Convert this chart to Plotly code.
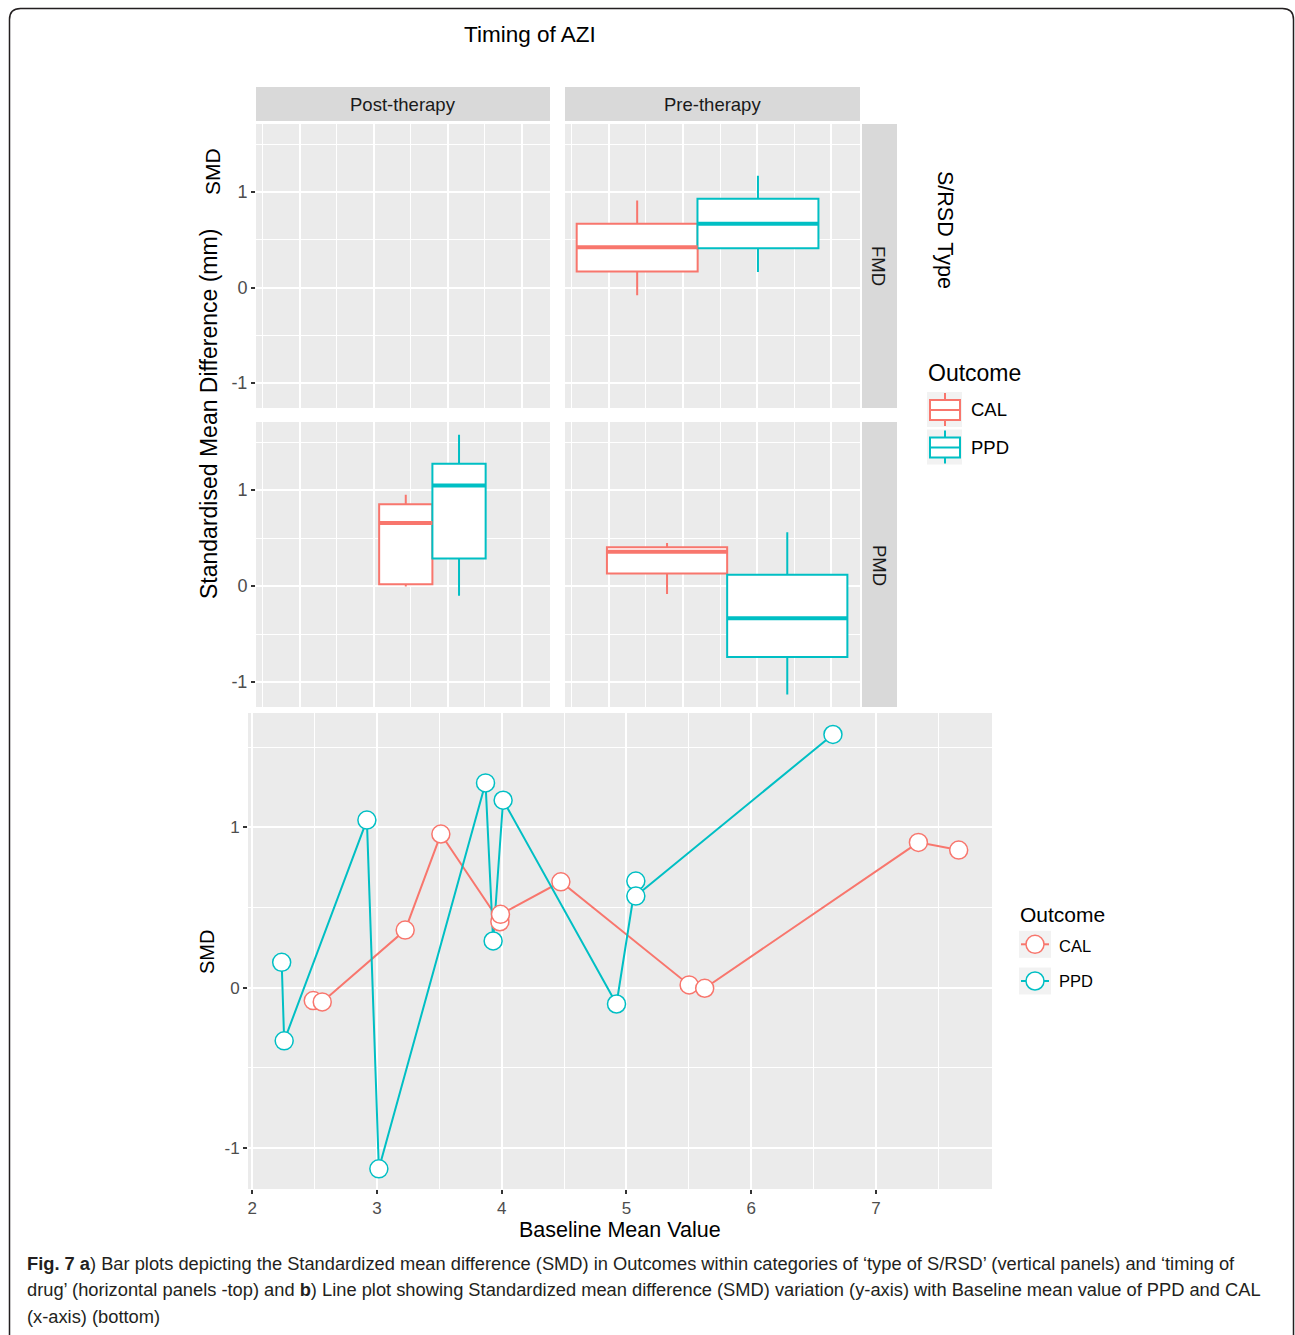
import plotly.graph_objects as go

# ---------------- data ----------------
# Box summaries (a): Standardised mean difference by outcome, S/RSD type and timing of AZI
box_timing = ["Post-therapy", "Post-therapy", "Pre-therapy", "Pre-therapy", "Pre-therapy", "Pre-therapy"]
box_srsd = ["PMD", "PMD", "FMD", "FMD", "PMD", "PMD"]
box_outcome = ["CAL", "PPD", "CAL", "PPD", "CAL", "PPD"]
box_lower = [-0.005, -0.10, -0.08, 0.163, -0.083, -1.13]
box_q1 = [0.018, 0.288, 0.167, 0.41, 0.132, -0.738]
box_median = [0.658, 1.047, 0.42, 0.667, 0.357, -0.336]
box_q3 = [0.852, 1.275, 0.667, 0.927, 0.405, 0.118]
box_upper = [0.953, 1.577, 0.91, 1.17, 0.45, 0.561]

# Line plot (b): SMD against baseline mean value
cal_baseline = [2.489, 2.561, 3.226, 3.512, 3.985, 3.990, 4.474, 5.502, 5.627, 7.340, 7.663]
cal_smd = [-0.081, -0.089, 0.359, 0.958, 0.411, 0.457, 0.660, 0.017, -0.004, 0.906, 0.858]
ppd_baseline = [2.236, 2.256, 2.919, 3.015, 3.870, 3.931, 4.011, 4.920, 5.075, 5.075, 6.655]
ppd_smd = [0.158, -0.332, 1.045, -1.13, 1.277, 0.291, 1.169, -0.102, 0.665, 0.571, 1.579]

y_ticks = [-1, 0, 1]
y_ticktext = ["-1", "0", "1"]
x_ticks_b = [2, 3, 4, 5, 6, 7]

# ---------------- layout constants ----------------
W, H = 1295, 1335
COLORS = {"CAL": "#F8766D", "PPD": "#00BFC4"}
FONT = "Liberation Sans, Arial, sans-serif"

# dodged box placement within each facet (facet x units)
box_centre = [4.87, 6.31, 2.765, 6.02, 3.57, 6.81]
box_width = [1.44, 1.44, 3.26, 3.26, 3.24, 3.24]


def X(px):
    return px / W


def Y(py):
    return 1 - py / H


facet_axes = {
    ("FMD", "Post-therapy"): ("x", "y"),
    ("FMD", "Pre-therapy"): ("x2", "y2"),
    ("PMD", "Post-therapy"): ("x3", "y3"),
    ("PMD", "Pre-therapy"): ("x4", "y4"),
}

fig = go.Figure()

# the Post-therapy / FMD facet holds no boxes; an invisible point keeps the panel drawn
fig.add_trace(go.Scatter(x=[4], y=[0], mode="markers", marker=dict(opacity=0),
                         xaxis="x", yaxis="y", showlegend=False, hoverinfo="skip"))

# ---- boxes ----
for i in range(len(box_outcome)):
    xa, ya = facet_axes[(box_srsd[i], box_timing[i])]
    col = COLORS[box_outcome[i]]
    fig.add_trace(go.Box(
        x=[box_centre[i]], q1=[box_q1[i]], median=[box_median[i]], q3=[box_q3[i]],
        lowerfence=[box_lower[i]], upperfence=[box_upper[i]],
        width=box_width[i], whiskerwidth=0, boxpoints=False,
        fillcolor="white", line=dict(color=col, width=2),
        xaxis=xa, yaxis=ya, showlegend=False, hoverinfo="skip",
    ))
    # heavier median bar
    fig.add_trace(go.Scatter(
        x=[box_centre[i] - box_width[i] / 2, box_centre[i] + box_width[i] / 2],
        y=[box_median[i], box_median[i]], mode="lines",
        line=dict(color=col, width=4), xaxis=xa, yaxis=ya,
        showlegend=False, hoverinfo="skip",
    ))

# ---- line plot: lines first, then points on top ----
for name, xs, ys in [("CAL", cal_baseline, cal_smd), ("PPD", ppd_baseline, ppd_smd)]:
    fig.add_trace(go.Scatter(x=xs, y=ys, mode="lines", line=dict(color=COLORS[name], width=2),
                             xaxis="x5", yaxis="y5", showlegend=False, hoverinfo="skip"))
for name, xs, ys in [("CAL", cal_baseline, cal_smd), ("PPD", ppd_baseline, ppd_smd)]:
    fig.add_trace(go.Scatter(x=xs, y=ys, mode="markers",
                             marker=dict(size=18, color="white", line=dict(color=COLORS[name], width=1.5)),
                             xaxis="x5", yaxis="y5", showlegend=False, hoverinfo="skip"))

# ---- axes ----
grid_major = dict(showgrid=True, gridcolor="white", gridwidth=2, zeroline=False, showline=False)


def top_x(domain, anchor):
    return dict(domain=domain, anchor=anchor, range=[0.82, 8.77], tickvals=[2, 4, 6, 8],
                showticklabels=False, ticks="",
                minor=dict(tickvals=[1, 3, 5, 7], showgrid=True, gridcolor="white", gridwidth=1, ticks=""),
                **grid_major)


def top_y(domain, anchor, labels):
    d = dict(domain=domain, anchor=anchor, range=[-1.26, 1.71], tickvals=y_ticks, ticktext=y_ticktext,
             showticklabels=labels, ticks="outside" if labels else "", ticklen=4, tickwidth=1.5,
             tickcolor="#333333", tickfont=dict(size=18, color="#4D4D4D", family=FONT),
             minor=dict(tickvals=[-0.5, 0.5, 1.5], showgrid=True, gridcolor="white", gridwidth=1, ticks=""),
             **grid_major)
    return d


post_dom = [X(256), X(550)]
pre_dom = [X(565), X(860)]
fmd_dom = [Y(408), Y(124)]
pmd_dom = [Y(707), Y(422)]

fig.update_layout(
    xaxis=top_x(post_dom, "y"), yaxis=top_y(fmd_dom, "x", True),
    xaxis2=top_x(pre_dom, "y2"), yaxis2=top_y(fmd_dom, "x2", False),
    xaxis3=top_x(post_dom, "y3"), yaxis3=top_y(pmd_dom, "x3", True),
    xaxis4=top_x(pre_dom, "y4"), yaxis4=top_y(pmd_dom, "x4", False),
    xaxis5=dict(domain=[X(248), X(992)], anchor="y5", range=[1.966, 7.93], tickvals=x_ticks_b,
                ticks="outside", ticklen=4, tickwidth=1.5, tickcolor="#333333",
                tickfont=dict(size=17, color="#4D4D4D", family=FONT),
                minor=dict(tickvals=[2.5, 3.5, 4.5, 5.5, 6.5, 7.5], showgrid=True,
                           gridcolor="white", gridwidth=1, ticks=""),
                **grid_major),
    yaxis5=dict(domain=[Y(1189), Y(713)], anchor="x5", range=[-1.256, 1.713], tickvals=y_ticks,
                ticktext=y_ticktext, ticks="outside", ticklen=4, tickwidth=1.5, tickcolor="#333333",
                tickfont=dict(size=17, color="#4D4D4D", family=FONT),
                minor=dict(tickvals=[-0.5, 0.5, 1.5], showgrid=True, gridcolor="white", gridwidth=1, ticks=""),
                **grid_major),
)

# ---- shapes: strips, legend keys, frame ----
shapes = []


def rect(x0, y0, x1, y1, fill, line_col=None, lw=0):
    shapes.append(dict(type="rect", xref="paper", yref="paper", x0=X(x0), x1=X(x1), y0=Y(y1), y1=Y(y0),
                       fillcolor=fill, line=dict(color=line_col or fill, width=lw), layer="above"))


def seg(x0, y0, x1, y1, col, lw):
    shapes.append(dict(type="line", xref="paper", yref="paper", x0=X(x0), x1=X(x1), y0=Y(y0), y1=Y(y1),
                       line=dict(color=col, width=lw), layer="above"))


# facet strips
rect(256, 87, 550, 121, "#D9D9D9")
rect(565, 87, 860, 121, "#D9D9D9")
rect(862, 124, 897, 408, "#D9D9D9")
rect(862, 422, 897, 707, "#D9D9D9")

# legend (a): box glyphs
for k, name in enumerate(["CAL", "PPD"]):
    oy = 37.5 * k
    col = COLORS[name]
    rect(927, 392 + oy, 962, 427 + oy, "#F2F2F2")
    seg(945, 393 + oy, 945, 426 + oy, col, 2)
    rect(930, 400 + oy, 960, 420 + oy, "white", col, 2)
    seg(930, 410 + oy, 960, 410 + oy, col, 2)

# legend (b): line + open circle glyphs
for k, name in enumerate(["CAL", "PPD"]):
    cy = 944.3 + 36.7 * k
    col = COLORS[name]
    rect(1019, cy - 13.5, 1051, cy + 13.5, "#F2F2F2")
    seg(1021, cy, 1049, cy, col, 2)
    shapes.append(dict(type="circle", xref="paper", yref="paper", x0=X(1035 - 9), x1=X(1035 + 9),
                       y0=Y(cy + 9), y1=Y(cy - 9), fillcolor="white", line=dict(color=col, width=1.5),
                       layer="above"))

# rounded outer frame
r = 11
fx0, fy0, fx1, fy1 = 9.5, 8.5, 1293.5, 1350
path = (f"M {X(fx0)},{Y(fy1)} L {X(fx0)},{Y(fy0 + r)} Q {X(fx0)},{Y(fy0)} {X(fx0 + r)},{Y(fy0)} "
        f"L {X(fx1 - r)},{Y(fy0)} Q {X(fx1)},{Y(fy0)} {X(fx1)},{Y(fy0 + r)} L {X(fx1)},{Y(fy1)}")
shapes.append(dict(type="path", xref="paper", yref="paper", path=path,
                   line=dict(color="#231F20", width=1.5), layer="above"))

# ---- text ----
ann = []


def text(s, px, py, size, color="black", angle=0, xanchor="center", family=FONT):
    ann.append(dict(text=s, x=X(px), y=Y(py), xref="paper", yref="paper", showarrow=False,
                    xanchor=xanchor, yanchor="middle", textangle=angle,
                    font=dict(size=size, color=color, family=family)))


text("Timing of AZI", 530, 35, 22.5)
text("Post-therapy", 403, 104, 18.5, "#1A1A1A")
text("Pre-therapy", 712, 104, 18.5, "#1A1A1A")
text("FMD", 879, 266, 18.5, "#1A1A1A", angle=90)
text("PMD", 879, 565, 18.5, "#1A1A1A", angle=90)
text("S/RSD Type", 945, 230, 21.5, angle=90)
text("SMD", 212, 172, 21, angle=-90)
text("Standardised Mean Difference (mm)", 209, 414, 23, angle=-90)
text("Outcome", 926, 373, 23, xanchor="left")
text("CAL", 969, 410, 18.5, xanchor="left")
text("PPD", 969, 447, 18.5, xanchor="left")

text("SMD", 207, 952, 20, angle=-90)
text("Baseline Mean Value", 620, 1230, 21.5)
text("Outcome", 1018, 914, 21, xanchor="left")
text("CAL", 1057, 946, 16.5, xanchor="left")
text("PPD", 1057, 981, 16.5, xanchor="left")

caption = [
    "<b>Fig. 7 a</b>) Bar plots depicting the Standardized mean difference (SMD) in Outcomes within "
    "categories of \u2018type of S/RSD\u2019 (vertical panels) and \u2018timing of",
    "drug\u2019 (horizontal panels -top) and <b>b</b>) Line plot showing Standardized mean difference (SMD) "
    "variation (y-axis) with Baseline mean value of PPD and CAL",
    "(x-axis) (bottom)",
]
for k, line in enumerate(caption):
    text(line, 25, 1263 + 26.5 * k, 18.3, "#231F20", xanchor="left")

fig.update_layout(
    width=W, height=H, autosize=False,
    margin=dict(l=0, r=0, t=0, b=0),
    paper_bgcolor="white", plot_bgcolor="#EBEBEB",
    showlegend=False, shapes=shapes, annotations=ann,
    font=dict(family=FONT),
)

fig.write_html("out.html")
